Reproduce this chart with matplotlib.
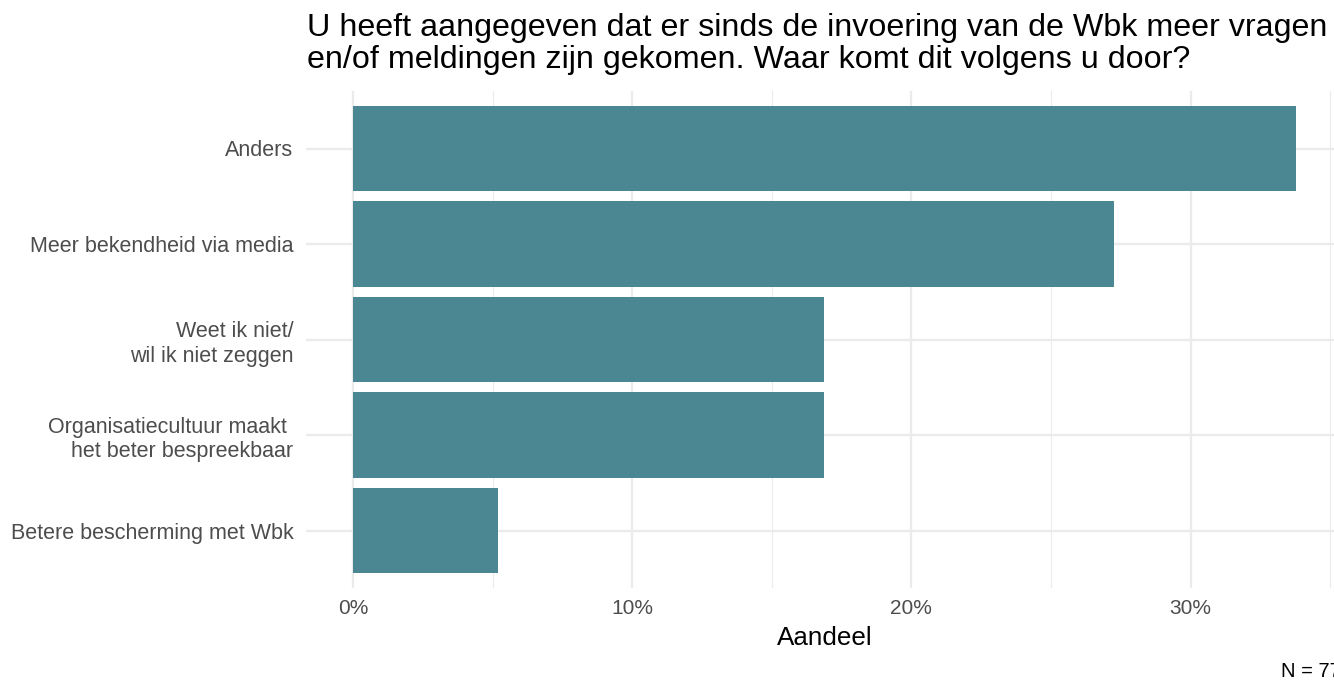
import matplotlib
matplotlib.use('Agg')
import matplotlib.pyplot as plt
from matplotlib.ticker import FuncFormatter, MultipleLocator

# data (N = 77), bottom to top
categories = [
    'Betere bescherming met Wbk',
    'Organisatiecultuur maakt \nhet beter bespreekbaar',
    'Weet ik niet/\nwil ik niet zeggen',
    'Meer bekendheid via media',
    'Anders',
]
shares = [5.19, 16.88, 16.88, 27.27, 33.77]

title = ('U heeft aangegeven dat er sinds de invoering van de Wbk meer vragen\n'
         'en/of meldingen zijn gekomen. Waar komt dit volgens u door?')
caption = 'N = 77'

bar_color = '#4A8793'
grid_color = '#EBEBEB'
label_color = '#4D4D4D'

plt.rcParams['font.family'] = ['Liberation Sans', 'DejaVu Sans']

W, H = 1334, 681
fig = plt.figure(figsize=(W / 100, H / 100), dpi=100)
left, right = 305.8 / W, 1343 / W
bottom, top = 1 - 587.8 / H, 1 - 91.2 / H
ax = fig.add_axes([left, bottom, right - left, top - bottom])

ypos = list(range(len(categories)))
ax.barh(ypos, shares, height=0.9, color=bar_color, zorder=2)

xmax = max(shares)
ax.set_xlim(-0.05 * xmax, 1.05 * xmax)
ax.set_ylim(-0.6, len(categories) - 0.4)

ax.xaxis.set_major_locator(MultipleLocator(10))
ax.xaxis.set_minor_locator(MultipleLocator(5))
ax.xaxis.set_major_formatter(FuncFormatter(lambda v, p: f'{v:.0f}%'))
ax.set_yticks(ypos)
ax.set_yticklabels(categories, linespacing=1.25)

ax.grid(which='major', axis='both', color=grid_color, linewidth=1.6, zorder=0)
ax.grid(which='minor', axis='x', color=grid_color, linewidth=0.8, zorder=0)
ax.set_axisbelow(True)
for s in ax.spines.values():
    s.set_visible(False)
ax.tick_params(which='both', length=0)
ax.tick_params(axis='y', pad=9, labelsize=15.5, labelcolor=label_color)
ax.tick_params(axis='x', pad=8, labelsize=15, labelcolor=label_color)

ax.set_xlabel('Aandeel', fontsize=18.7, color='black', labelpad=6)

# matplotlib puts the last line on the baseline for multi-line text
fig.text(307 / W, 1 - 68 / H, title, fontsize=23.2, color='black',
         ha='left', va='baseline', linespacing=1.1)
fig.text(1281 / W, 1 - 677 / H, caption, fontsize=14.5, color='black',
         ha='left', va='baseline')

fig.savefig('out.png', dpi=100)
